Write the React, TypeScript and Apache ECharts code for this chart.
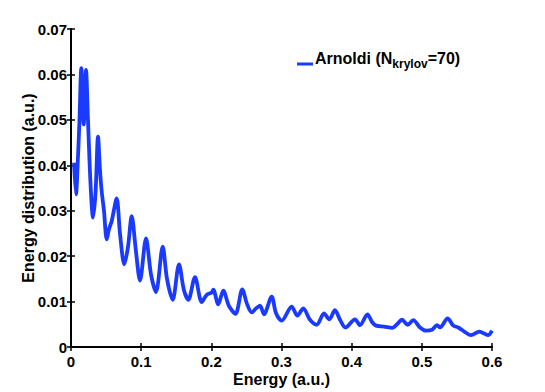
import React, { useEffect, useRef } from "react";
import * as echarts from "echarts";

const energy = [
  0.0043, 0.0071, 0.01, 0.0121, 0.0147, 0.0181, 0.0214, 0.0242, 0.0278, 0.0314,
  0.035, 0.0385, 0.0413, 0.0437, 0.047, 0.0509, 0.0542, 0.058, 0.0651, 0.0698,
  0.076, 0.0812, 0.0865, 0.0926, 0.0983, 0.1069, 0.114, 0.1211, 0.1307, 0.1368,
  0.1449, 0.1539, 0.161, 0.1672, 0.1767, 0.1863, 0.1934, 0.2005, 0.2028, 0.2099,
  0.217, 0.2252, 0.2344, 0.2441, 0.2508, 0.2575, 0.2637, 0.2693, 0.275, 0.286,
  0.2921, 0.3003, 0.3145, 0.3225, 0.331, 0.3406, 0.3502, 0.3606, 0.3681, 0.3762,
  0.3834, 0.3912, 0.4047, 0.4119, 0.4225, 0.429, 0.4347, 0.4461, 0.4582, 0.4646,
  0.4717, 0.4798, 0.4878, 0.4974, 0.5059, 0.5145, 0.5216, 0.5259, 0.5368, 0.5448,
  0.5519, 0.5615, 0.57, 0.5819, 0.5943, 0.6,
];
const distribution = [
  0.0406, 0.0336, 0.042, 0.05, 0.0614, 0.049, 0.061, 0.05, 0.036, 0.0285,
  0.034, 0.0463, 0.039, 0.0343, 0.03, 0.0237, 0.026, 0.0277, 0.0327, 0.025,
  0.0182, 0.022, 0.0288, 0.021, 0.0146, 0.0239, 0.016, 0.0121, 0.0221, 0.015,
  0.0104, 0.0182, 0.0125, 0.0104, 0.0154, 0.0099, 0.0115, 0.012, 0.0126, 0.0094,
  0.0124, 0.009, 0.0073, 0.0127, 0.0095, 0.0076, 0.0085, 0.0091, 0.0072, 0.0111,
  0.0075, 0.0058, 0.0089, 0.0069, 0.0085, 0.006, 0.0049, 0.0074, 0.0061, 0.0081,
  0.006, 0.0043, 0.0061, 0.0048, 0.0072, 0.0055, 0.0047, 0.0045, 0.0042, 0.005,
  0.006, 0.0049, 0.0059, 0.0043, 0.0036, 0.0038, 0.0048, 0.0043, 0.0063, 0.0047,
  0.0043, 0.0033, 0.0026, 0.0034, 0.0026, 0.0036,
];
const xTickLabels = ["0", "0.1", "0.2", "0.3", "0.4", "0.5", "0.6"];
const yTickLabels = ["0", "0.01", "0.02", "0.03", "0.04", "0.05", "0.06", "0.07"];
const xTitle = "Energy (a.u.)";
const yTitle = "Energy distribution (a.u.)";
const seriesName = "Arnoldi";

const FONT = "'Liberation Sans', Arial, Helvetica, sans-serif";
const BLUE = "#1a3bff";

export default function App() {
  const ref = useRef<HTMLDivElement>(null);
  useEffect(() => {
    if (!ref.current) return;
    const chart = echarts.init(ref.current, undefined, { renderer: "svg" });
    const axisLine = { show: true, lineStyle: { color: "#000", width: 2 } };
    const tick = { show: true, inside: true, length: 4, lineStyle: { color: "#000", width: 1.5 } };
    const labelStyle = { color: "#000", fontFamily: FONT, fontWeight: "bold" as const, fontSize: 15 };
    chart.setOption({
      animation: false,
      backgroundColor: "#fff",
      grid: { left: 71, right: 53, top: 29, bottom: 44, containLabel: false },
      xAxis: [
        {
          type: "value", min: 0, max: 0.6, interval: 0.1, position: "bottom",
          axisLine, axisTick: tick, splitLine: { show: false },
          axisLabel: {
            ...labelStyle, margin: 7,
            formatter: (v: number) => xTickLabels[Math.round(v / 0.1)] ?? "",
          },
          name: xTitle, nameLocation: "middle", nameGap: 24, nameMoveOverlap: false,
          nameTextStyle: { color: "#000", fontFamily: FONT, fontWeight: "bold", fontSize: 16 },
        },
        {
          type: "value", min: 0, max: 0.6, interval: 0.1, position: "top",
          axisLine, axisTick: tick, axisLabel: { show: false }, splitLine: { show: false },
        },
      ],
      yAxis: [
        {
          type: "value", min: 0, max: 0.07, interval: 0.01, position: "left",
          axisLine, axisTick: tick, splitLine: { show: false },
          axisLabel: {
            ...labelStyle, margin: 4,
            formatter: (v: number) => yTickLabels[Math.round(v / 0.01)] ?? "",
          },
          name: yTitle, nameLocation: "middle", nameGap: 35, nameMoveOverlap: false,
          nameTextStyle: { color: "#000", fontFamily: FONT, fontWeight: "bold", fontSize: 16 },
        },
        {
          type: "value", min: 0, max: 0.07, interval: 0.01, position: "right",
          axisLine, axisTick: tick, axisLabel: { show: false }, splitLine: { show: false },
        },
      ],
      series: [
        {
          name: seriesName,
          type: "line",
          data: energy.map((e, i) => [e, distribution[i]]),
          showSymbol: false,
          smooth: 0.3,
          lineStyle: { color: BLUE, width: 3.8 },
          itemStyle: { color: BLUE },
        },
      ],
      graphic: [
        {
          type: "line",
          shape: { x1: 297, y1: 64, x2: 313, y2: 64 },
          style: { stroke: BLUE, lineWidth: 3 },
        },
        {
          type: "text",
          x: 315,
          y: 58,
          style: {
            text: "{a|Arnoldi (N}{s|krylov}{a|=70)}",
            verticalAlign: "middle",
            align: "left",
            fill: "#000",
            rich: {
              a: { fontFamily: FONT, fontWeight: "bold", fontSize: 16, lineHeight: 24, verticalAlign: "middle", fill: "#000" },
              s: { fontFamily: FONT, fontWeight: "bold", fontSize: 12, lineHeight: 12, verticalAlign: "bottom", fill: "#000" },
            },
          },
        },
      ],
    });
    return () => chart.dispose();
  }, []);
  return (
    <div
      ref={ref}
      style={{ position: "fixed", left: 0, top: 0, width: 545, height: 392, background: "#fff" }}
    />
  );
}
